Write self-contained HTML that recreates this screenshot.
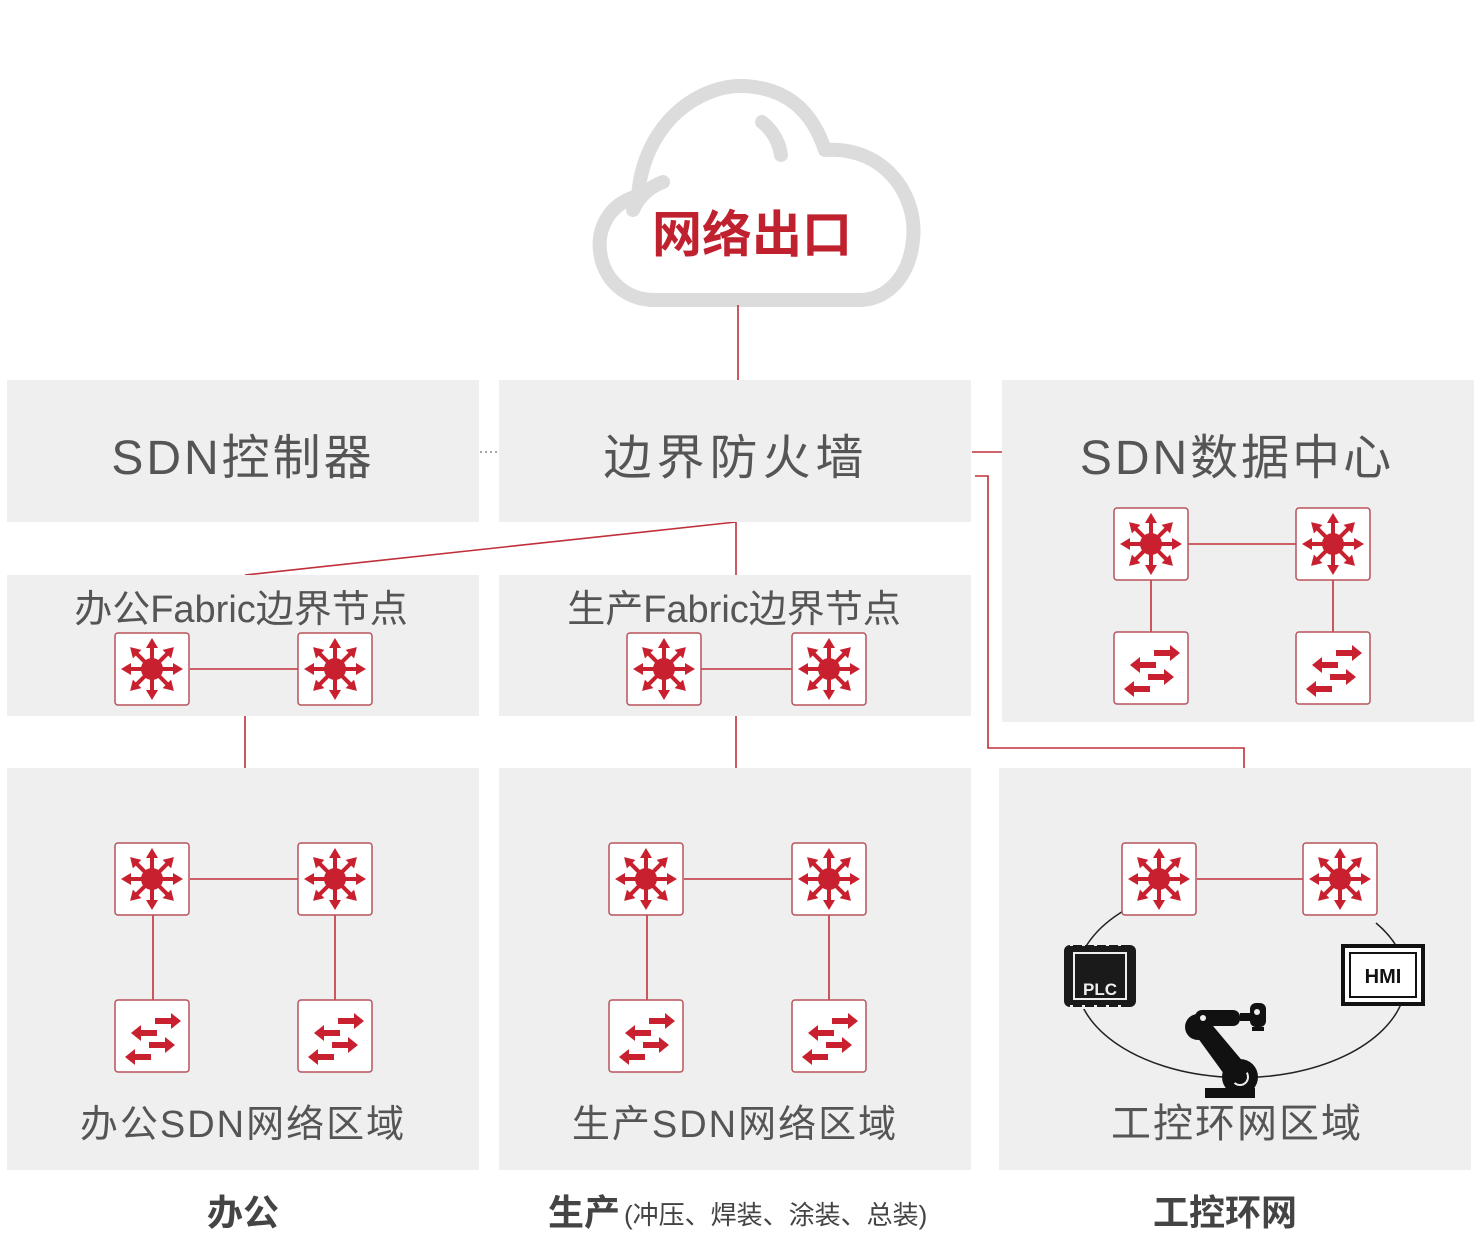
<!DOCTYPE html>
<html><head><meta charset="utf-8"><style>
html,body{margin:0;padding:0;background:#fff;}
svg{display:block;}
text{font-family:"Liberation Sans","Noto Sans CJK SC",sans-serif;}
</style></head><body>
<svg width="1480" height="1240" viewBox="0 0 1480 1240" xmlns="http://www.w3.org/2000/svg">
<defs>
<g id="arr"><line x1="0" y1="0" x2="0" y2="-24" stroke="#c8202f" stroke-width="4"/><polygon points="0,-31 -6,-21 6,-21" fill="#c8202f"/></g>
<g id="rt">
<rect x="0" y="0" width="74" height="72" rx="3" fill="#fff" stroke="#b8545c" stroke-width="1.5"/>
<g transform="translate(37,36)">
<use href="#arr"/><use href="#arr" transform="rotate(45)"/><use href="#arr" transform="rotate(90)"/><use href="#arr" transform="rotate(135)"/>
<use href="#arr" transform="rotate(180)"/><use href="#arr" transform="rotate(225)"/><use href="#arr" transform="rotate(270)"/><use href="#arr" transform="rotate(315)"/>
<circle r="11" fill="#c8202f"/></g></g>
<g id="sw">
<rect x="0" y="0" width="74" height="72" rx="3" fill="#fff" stroke="#b8545c" stroke-width="1.5"/>
<g fill="#c8202f">
<rect x="40" y="18" width="16" height="6"/><polygon points="56,13 66,21 56,29"/>
<rect x="26" y="30" width="16" height="6"/><polygon points="26,25 16,33 26,41"/>
<rect x="34" y="42" width="16" height="6"/><polygon points="50,37 60,45 50,53"/>
<rect x="20" y="54" width="16" height="6"/><polygon points="20,49 10,57 20,65"/>
</g></g>
</defs>

<!-- cloud -->
<path d="M655,300 C592,300 578,212 638,196 C644,122 700,84 745,86 C795,89 815,120 825,150 C885,146 918,196 913,240 C909,280 884,300 860,300 Z" fill="#fff" stroke="#dcdcdc" stroke-width="14" stroke-linejoin="round"/>
<path d="M762,122 Q778,135 781,155" fill="none" stroke="#dcdcdc" stroke-width="14" stroke-linecap="round"/>
<path d="M663,182 Q642,190 633,210" fill="none" stroke="#dcdcdc" stroke-width="14" stroke-linecap="round"/>
<text x="752" y="252" text-anchor="middle" font-size="50" font-weight="bold" fill="#c0212f">网络出口</text>

<!-- connectors -->
<g stroke="#c0303a" stroke-width="1.6" fill="none">
<line x1="738" y1="305" x2="738" y2="380"/>
<line x1="972" y1="452" x2="1002" y2="452"/>
<polyline points="975,476 988,476 988,748 1244,748 1244,768"/>
<line x1="736" y1="522" x2="245" y2="575"/>
<line x1="736" y1="522" x2="736" y2="575"/>
<line x1="245" y1="716" x2="245" y2="768"/>
<line x1="736" y1="716" x2="736" y2="768"/>
</g>
<line x1="480" y1="452" x2="500" y2="452" stroke="#888" stroke-width="1.5" stroke-dasharray="2,3"/>

<!-- boxes -->
<g fill="#efefef">
<rect x="7" y="380" width="472" height="142"/>
<rect x="499" y="380" width="472" height="142"/>
<rect x="1002" y="380" width="472" height="342"/>
<rect x="7" y="575" width="472" height="141"/>
<rect x="499" y="575" width="472" height="141"/>
<rect x="7" y="768" width="472" height="402"/>
<rect x="499" y="768" width="472" height="402"/>
<rect x="999" y="768" width="472" height="402"/>
</g>

<g fill="#555" text-anchor="middle">
<text x="243" y="474" font-size="48" letter-spacing="3">SDN控制器</text>
<text x="736" y="474" font-size="48" letter-spacing="5">边界防火墙</text>
<text x="1237" y="474" font-size="48" letter-spacing="3">SDN数据中心</text>
<text x="241" y="622" font-size="38">办公Fabric边界节点</text>
<text x="734" y="622" font-size="38">生产Fabric边界节点</text>
<text x="243" y="1137" font-size="38" letter-spacing="2">办公SDN网络区域</text>
<text x="735" y="1137" font-size="38" letter-spacing="2">生产SDN网络区域</text>
<text x="1237" y="1137" font-size="40" letter-spacing="2">工控环网区域</text>
</g>

<!-- inner lines -->
<g stroke="#c0303a" stroke-width="1.6">
<line x1="1188" y1="544" x2="1296" y2="544"/><line x1="1151" y1="580" x2="1151" y2="632"/><line x1="1333" y1="580" x2="1333" y2="632"/>
<line x1="190" y1="669" x2="298" y2="669"/>
<line x1="700" y1="669" x2="792" y2="669"/>
<line x1="190" y1="879" x2="298" y2="879"/><line x1="153" y1="915" x2="153" y2="1000"/><line x1="335" y1="915" x2="335" y2="1000"/>
<line x1="684" y1="879" x2="792" y2="879"/><line x1="647" y1="915" x2="647" y2="1000"/><line x1="829" y1="915" x2="829" y2="1000"/>
<line x1="1197" y1="879" x2="1303" y2="879"/>
</g>

<!-- ring -->
<path d="M1125,910 A165,98 0 1 0 1376,923" fill="none" stroke="#222" stroke-width="1.5"/>

<!-- icons -->
<use href="#rt" x="1114" y="508"/><use href="#rt" x="1296" y="508"/>
<use href="#sw" x="1114" y="632"/><use href="#sw" x="1296" y="632"/>
<use href="#rt" x="115" y="633"/><use href="#rt" x="298" y="633"/>
<use href="#rt" x="627" y="633"/><use href="#rt" x="792" y="633"/>
<use href="#rt" x="115" y="843"/><use href="#rt" x="298" y="843"/>
<use href="#sw" x="115" y="1000"/><use href="#sw" x="298" y="1000"/>
<use href="#rt" x="609" y="843"/><use href="#rt" x="792" y="843"/>
<use href="#sw" x="609" y="1000"/><use href="#sw" x="792" y="1000"/>
<use href="#rt" x="1122" y="843"/><use href="#rt" x="1303" y="843"/>

<!-- PLC -->
<rect x="1064" y="945" width="72" height="62" rx="6" fill="#1a1a1a"/>
<rect x="1074" y="953" width="52" height="46" fill="#1a1a1a" stroke="#eee" stroke-width="2"/>
<g fill="#efefef"><rect x="1070" y="942" width="3" height="4"/><rect x="1082" y="942" width="3" height="4"/><rect x="1094" y="942" width="3" height="4"/><rect x="1106" y="942" width="3" height="4"/><rect x="1118" y="942" width="3" height="4"/>
<rect x="1070" y="1005" width="3" height="4"/><rect x="1082" y="1005" width="3" height="4"/><rect x="1094" y="1005" width="3" height="4"/><rect x="1106" y="1005" width="3" height="4"/><rect x="1118" y="1005" width="3" height="4"/></g>
<text x="1100" y="995" text-anchor="middle" font-size="17" font-weight="bold" fill="#eee">PLC</text>
<!-- HMI -->
<rect x="1343" y="946" width="80" height="58" fill="#fff" stroke="#111" stroke-width="4"/>
<rect x="1350" y="953" width="66" height="44" fill="none" stroke="#111" stroke-width="2"/>
<text x="1383" y="983" text-anchor="middle" font-size="20" font-weight="bold" fill="#111">HMI</text>
<!-- robot -->
<g fill="#111">
<rect x="1205" y="1088" width="50" height="10"/>
<circle cx="1240" cy="1077" r="18"/>
<circle cx="1240" cy="1077" r="8" fill="none" stroke="#efefef" stroke-width="2"/>
<polygon points="1192,1030 1208,1020 1250,1070 1232,1085"/>
<circle cx="1198" cy="1027" r="13"/>
<rect x="1195" y="1010" width="45" height="16" rx="7"/>
<circle cx="1203" cy="1018" r="3" fill="#efefef"/>
<rect x="1240" y="1013" width="10" height="8"/>
<rect x="1250" y="1003" width="16" height="24" rx="6"/>
<circle cx="1257" cy="1012" r="3" fill="#efefef"/>
<rect x="1252" y="1027" width="12" height="4"/>
</g>

<!-- bottom labels -->
<text x="243" y="1225" text-anchor="middle" font-size="36" font-weight="bold" fill="#444">办公</text>
<text x="548" y="1225" font-size="36" font-weight="bold" fill="#444">生产</text>
<text x="624" y="1224" font-size="26" fill="#444">(冲压、焊装、涂装、总装)</text>
<text x="1225" y="1225" text-anchor="middle" font-size="36" font-weight="bold" fill="#444">工控环网</text>
</svg>
</body></html>
